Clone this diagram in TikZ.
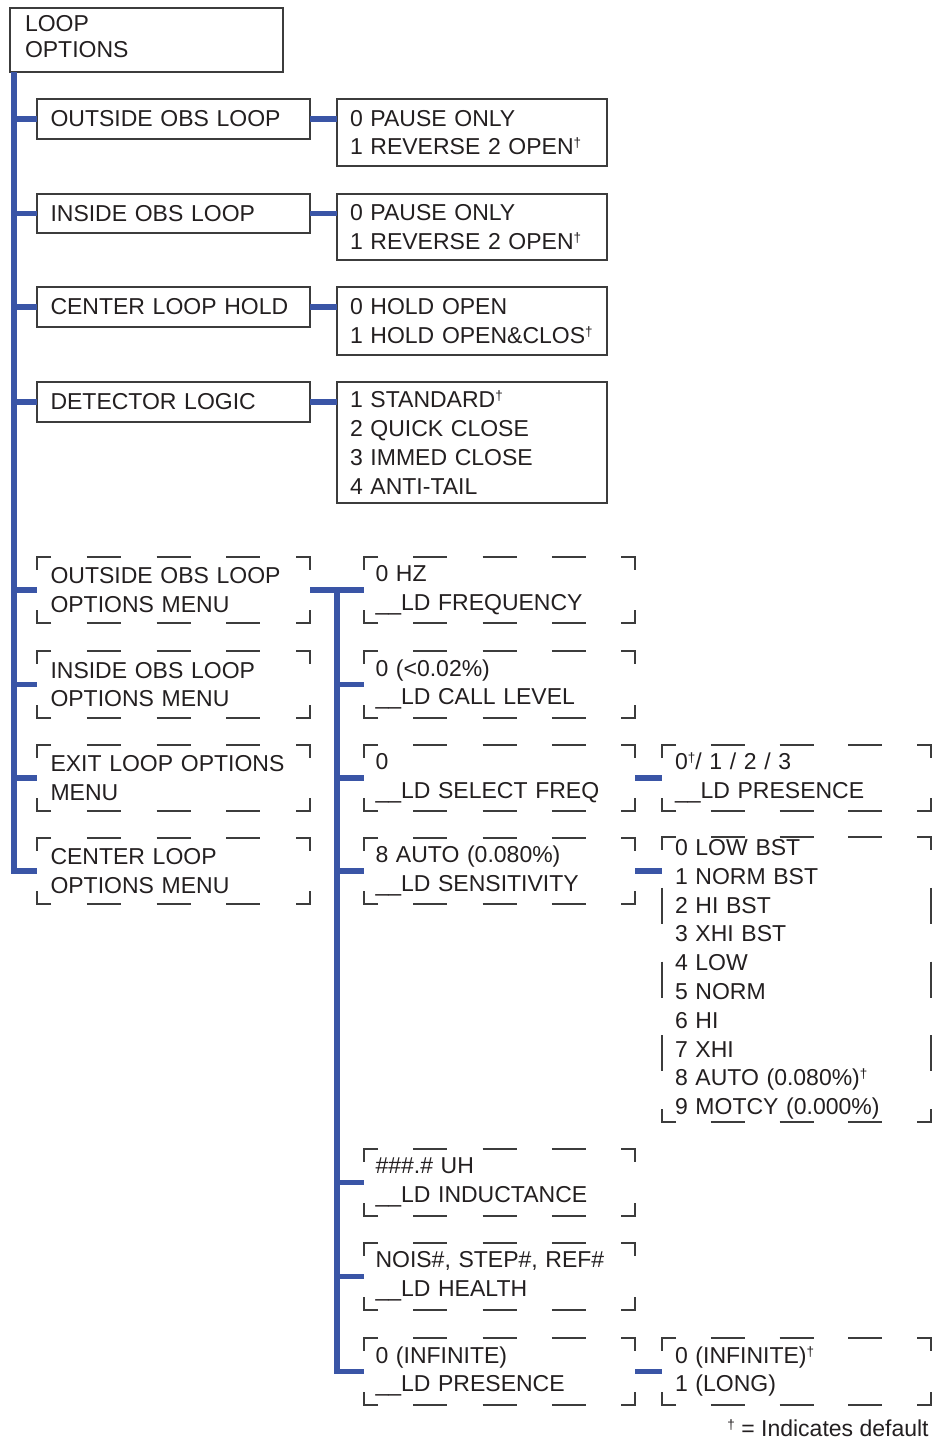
\documentclass[tikz,border=0pt]{standalone}
\usepackage{fontspec}
\setmainfont{Liberation Sans}
\usetikzlibrary{calc}
\definecolor{linkblue}{RGB}{58,85,166}
\definecolor{framegray}{RGB}{60,60,60}
\definecolor{inkblack}{RGB}{35,31,32}
\newcommand\dg{\raisebox{7pt}{\fontsize{13.5pt}{13.5pt}\selectfont †}}
\newcommand\dframe[4]{%
  \pgfmathtruncatemacro\dfnh{round((#3-#1-28-35)/70)}%
  \pgfmathtruncatemacro\dfnv{round((#4-#2-26-35)/72)}%
  \pgfmathsetmacro\dfgh{(#3-#1-28-\dfnh*34)/(\dfnh+1)}%
  \pgfmathsetmacro\dfgv{(#4-#2-26-\dfnv*36)/(\dfnv+1)}%
  \draw[dline] (#1+14,#2) -- (#1,#2) -- (#1,#2+13);
  \draw[dline] (#3-14,#2) -- (#3,#2) -- (#3,#2+13);
  \draw[dline] (#1+14,#4) -- (#1,#4) -- (#1,#4-13);
  \draw[dline] (#3-14,#4) -- (#3,#4) -- (#3,#4-13);
  \ifnum\dfnh>0
    \foreach \k in {1,...,\dfnh}{%
      \pgfmathsetmacro\dfs{#1+14+\k*\dfgh+(\k-1)*34}%
      \draw[dline] (\dfs,#2) -- (\dfs+34,#2) (\dfs,#4) -- (\dfs+34,#4);}%
  \fi
  \ifnum\dfnv>0
    \foreach \k in {1,...,\dfnv}{%
      \pgfmathsetmacro\dfs{#2+13+\k*\dfgv+(\k-1)*36}%
      \draw[dline] (#1,\dfs) -- (#1,\dfs+36) (#3,\dfs) -- (#3,\dfs+36);}%
  \fi}
\newcommand\dnode[7]{%
  \pgfmathsetmacro\dnh{#5-#3}%
  \node[base,#6,minimum height=\dnh pt] (#1) at (#2,#3) {#7};
  \dframe{#2}{#3}{#4}{#5}}
\begin{document}
\begin{tikzpicture}[x=1pt,y=-1pt,
  base/.style={font=\fontsize{23pt}{28.8pt}\selectfont, align=left, inner ysep=0pt,
    anchor=north west, outer sep=0pt, text=inkblack},
  sbox/.style={base, draw=framegray, line width=1.3pt},
  dline/.style={draw=framegray, line width=1.3pt, line cap=butt, line join=miter},
  link/.style={draw=linkblue, line width=5.5pt, line join=miter},
  wa/.style={text width=246pt, inner xsep=13.5pt},
  wb/.style={text width=244pt, inner xsep=13pt},
  wc/.style={text width=248pt, inner xsep=11.5pt},
  wd/.style={text width=244pt, inner xsep=13pt}]
\useasboundingbox (0,0) rectangle (933,1441);
\fill[white] (0,0) rectangle (933,1441);

% column 1 solid boxes
\node[sbox, text width=243pt, inner xsep=15pt, minimum height=64pt,
  font=\fontsize{23pt}{26pt}\selectfont] (lo) at (10,8) {LOOP\\OPTIONS\rule[-7pt]{0pt}{7pt}};
\node[sbox,wa,minimum height=40pt] (oobl) at (37,99) {OUTSIDE OBS LOOP};
\node[sbox,wa,minimum height=39pt] (iobl) at (37,194) {INSIDE OBS LOOP};
\node[sbox,wa,minimum height=40pt] (clh) at (37,287) {CENTER LOOP HOLD};
\node[sbox,wa,minimum height=40pt] (dl) at (37,382) {DETECTOR LOGIC};

% option boxes
\node[sbox,wb,minimum height=67pt] (oobo) at (337,99) {0 PAUSE ONLY\\1 REVERSE 2 OPEN\dg};
\node[sbox,wb,minimum height=66pt] (iobo) at (337,194) {0 PAUSE ONLY\\1 REVERSE 2 OPEN\dg};
\node[sbox,wb,minimum height=68pt] (clho) at (337,287) {0 HOLD OPEN\\1 HOLD OPEN\&CLOS\dg};
\node[sbox,wb,minimum height=121pt] (dlo) at (337,382) {1 STANDARD\dg\\2 QUICK CLOSE\\3 IMMED CLOSE\\4 ANTI-TAIL};

% column 1 dashed boxes
\dnode{oolom}{37}{557}{310}{623}{wa}{OUTSIDE OBS LOOP\\OPTIONS MENU}
\dnode{iolom}{37}{651}{310}{718}{wa}{INSIDE OBS LOOP\\OPTIONS MENU}
\dnode{elom}{37}{745}{310}{811}{wa}{EXIT LOOP OPTIONS\\MENU}
\dnode{clom}{37}{838}{310}{904}{wa}{CENTER LOOP\\OPTIONS MENU}

% column 2 dashed boxes
\dnode{hz}{364}{557}{635}{623}{wc}{0 HZ\\\_\_LD FREQUENCY}
\dnode{cl}{364}{651}{635}{718}{wc}{0 (<0.02\%)\\\_\_LD CALL LEVEL}
\dnode{sf}{364}{745}{635}{811}{wc}{0\\\_\_LD SELECT FREQ}
\dnode{sens}{364}{838}{635}{904}{wc}{8 AUTO (0.080\%)\\\_\_LD SENSITIVITY}
\dnode{ind}{364}{1149}{635}{1216}{wc}{\#\#\#.\# UH\\\_\_LD INDUCTANCE}
\dnode{hl}{364}{1243}{635}{1310}{wc}{NOIS\#, STEP\#, REF\#\\\_\_LD HEALTH}
\dnode{pres}{364}{1338}{635}{1405}{wc}{0 (INFINITE)\\\_\_LD PRESENCE}

% column 3 dashed boxes
\dnode{pthree}{662}{745}{931}{811}{wd}{0\dg/ 1 / 2 / 3\\\_\_LD PRESENCE}
\dnode{slist}{662}{837}{931}{1122}{wd}{0 LOW BST\\1 NORM BST\\2 HI BST\\3 XHI BST\\4 LOW\\5 NORM\\6 HI\\7 XHI\\8 AUTO (0.080\%)\dg\\9 MOTCY (0.000\%)}
\dnode{ptwo}{662}{1338}{931}{1405}{wd}{0 (INFINITE)\dg\\1 (LONG)}

% footnote
\node[base, anchor=east] (note) at (932,1428) {\dg\ = Indicates default};

% main trunk
\coordinate (t1) at ([xshift=4pt]lo.south west);
\draw[link] (t1) |- (clom.west);
\foreach \n in {oobl,iobl,clh,dl,oolom,iolom,elom}
  \draw[link] (t1 |- \n.west) -- (\n.west);

% option connectors
\draw[link] (oobl.east) -- (oobl.east -| oobo.west);
\draw[link] (iobl.east) -- (iobl.east -| iobo.west);
\draw[link] (clh.east) -- (clh.east -| clho.west);
\draw[link] (dl.east) -- (dl.east -| dlo.west);

% second trunk
\draw[link] (oolom.east) -- (oolom.east -| hz.west);
\coordinate (t2) at ($(oolom.east)!0.5!(oolom.east -| hz.west)$);
\draw[link] (t2) |- (pres.west);
\foreach \n in {cl,sf,sens,ind,hl}
  \draw[link] (t2 |- \n.west) -- (\n.west);

% third column connectors
\draw[link] (sf.east) -- (sf.east -| pthree.west);
\draw[link] (sens.east) -- (sens.east -| slist.west);
\draw[link] (pres.east) -- (pres.east -| ptwo.west);
\end{tikzpicture}
\end{document}
